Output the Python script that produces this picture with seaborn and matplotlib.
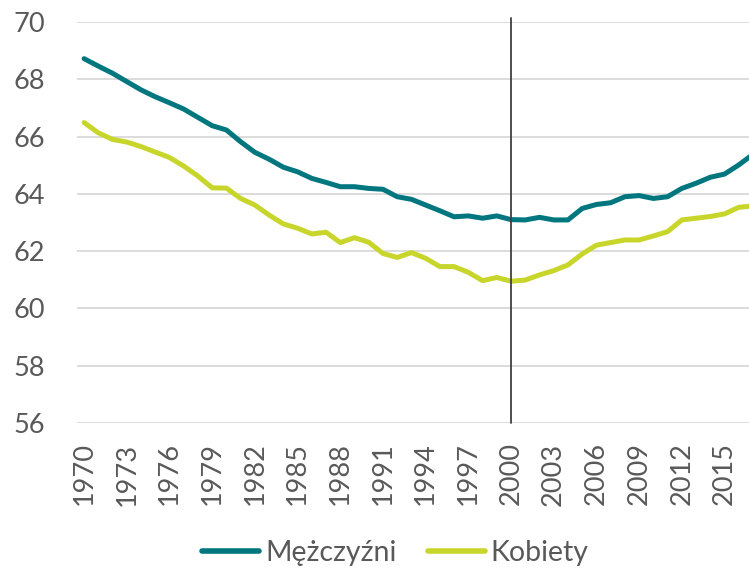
import pandas as pd
import matplotlib.pyplot as plt
import seaborn as sns

# Years 1970-2017
years = list(range(1970, 2018))

# Values
men = [68.72, 68.46, 68.21, 67.92, 67.63, 67.39, 67.18, 66.96, 66.67, 66.38,
       66.23, 65.82, 65.45, 65.21, 64.93, 64.77, 64.54, 64.40, 64.25, 64.25,
       64.19, 64.16, 63.90, 63.81, 63.61, 63.41, 63.20, 63.23, 63.15, 63.23,
       63.10, 63.09, 63.18, 63.09, 63.09, 63.49, 63.63, 63.69, 63.90, 63.94,
       63.84, 63.90, 64.19, 64.37, 64.58, 64.69, 65.01, 65.38]
women = [66.49, 66.13, 65.90, 65.81, 65.65, 65.46, 65.27, 64.97, 64.62, 64.21,
         64.20, 63.84, 63.61, 63.26, 62.95, 62.80, 62.60, 62.66, 62.30, 62.47,
         62.31, 61.92, 61.78, 61.95, 61.75, 61.46, 61.46, 61.26, 60.97, 61.08,
         60.95, 60.99, 61.17, 61.32, 61.52, 61.90, 62.21, 62.30, 62.39, 62.39,
         62.53, 62.68, 63.09, 63.15, 63.21, 63.30, 63.53, 63.58]

series_names = ['Mężczyźni', 'Kobiety']
colors = ['#00767f', '#c8d62b']
x_ticks = list(range(1970, 2018, 3))
y_ticks = list(range(56, 71, 2))

df = pd.DataFrame({
    'year': years * 2,
    'value': men + women,
    'series': [series_names[0]] * len(years) + [series_names[1]] * len(years),
})

sns.set_theme(style='white')
plt.rcParams['font.family'] = ['Lato', 'DejaVu Sans']

fig = plt.figure(figsize=(7.49, 5.69), dpi=100)
ax = fig.add_axes([0.1028, 0.2566, 0.912, 0.7047])

sns.lineplot(data=df, x='year', y='value', hue='series', palette=colors,
             linewidth=3.6, ax=ax, legend=False)

ax.axvline(2000, ymin=0, ymax=1.01, color='#404040', linewidth=1.3, clip_on=False, zorder=5)

ax.set_xlim(1969.5, 2017.5)
ax.set_ylim(56, 70)
ax.set_xticks(x_ticks)
ax.set_xticklabels([str(t) for t in x_ticks], rotation=90)
ax.set_yticks(y_ticks)
ax.grid(axis='y', color='#d9d9d9', linewidth=1.3)
ax.set_axisbelow(True)
for s in ax.spines.values():
    s.set_visible(False)
ax.tick_params(axis='y', length=0, pad=23, labelsize=19.5, labelcolor='#595959')
ax.tick_params(axis='x', length=0, pad=14, labelsize=19.5, labelcolor='#595959')
ax.set_xlabel('')
ax.set_ylabel('')

handles = [plt.Line2D([], [], color=c, linewidth=4, solid_capstyle='round') for c in colors]
fig.legend(handles, series_names, loc='center', bbox_to_anchor=(0.528, 0.028),
           ncol=2, frameon=False, fontsize=20.5, labelcolor='#595959',
           handlelength=2.0, handletextpad=0.2, columnspacing=1.1)

fig.savefig('out.png', dpi=100)
